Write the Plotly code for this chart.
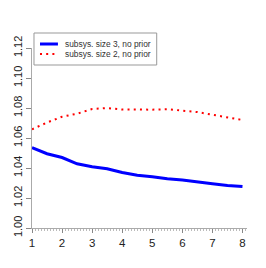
import plotly.graph_objects as go

x_vals = [1, 1.5, 2, 2.5, 3, 3.5, 4, 4.5, 5, 5.5, 6, 6.5, 7, 7.5, 8]
size3_no_prior = [1.0535, 1.0495, 1.0470, 1.0428, 1.0408, 1.0395, 1.0370, 1.0352,
                  1.0342, 1.0328, 1.0320, 1.0305, 1.0295, 1.0284, 1.0276]
size2_no_prior = [1.0658, 1.0703, 1.0742, 1.0762, 1.0793, 1.0800, 1.0790, 1.0789,
                  1.0789, 1.0792, 1.0785, 1.0773, 1.0755, 1.0737, 1.0720]
names = ["subsys. size 3, no prior", "subsys. size 2, no prior"]
x_ticks = [1, 2, 3, 4, 5, 6, 7, 8]
y_ticks = [1.00, 1.02, 1.04, 1.06, 1.08, 1.10, 1.12]

colors = ["#0000ff", "#ff0000"]
widths = [3, 2]
dashes = ["solid", "2px,4.2px"]

fig = go.Figure()
fig.add_trace(go.Scatter(x=x_vals, y=size3_no_prior, mode="lines", name=names[0],
                         line=dict(color=colors[0], width=widths[0], dash=dashes[0])))
fig.add_trace(go.Scatter(x=x_vals, y=size2_no_prior, mode="lines", name=names[1],
                         line=dict(color=colors[1], width=widths[1], dash=dashes[1])))

# page body has an 8px margin; figure drawn offset by it
OFF = 8
W, H = 266 - OFF, 268 - OFF
# plot area in window pixels: x 32..247.5, y 48..228
L, R, T, B = 32, 247.5, 48, 228
def px(p):
    return (p - L) / (R - L)
def py(p):
    return (B - p) / (B - T)

# manual legend (R style)
fig.add_shape(type="rect", xref="paper", yref="paper",
              x0=px(34), x1=px(157), y0=py(65), y1=py(33),
              line=dict(color="#999999", width=1), fillcolor="white", layer="above")
for i, (nm, rowy) in enumerate(zip(names, [44, 54])):
    fig.add_shape(type="line", xref="paper", yref="paper",
                  x0=px(40), x1=px(58), y0=py(rowy), y1=py(rowy),
                  line=dict(color=colors[i], width=widths[i], dash=dashes[i]), layer="above")
    fig.add_annotation(xref="paper", yref="paper", x=px(64), y=py(rowy),
                       xanchor="left", yanchor="middle", text=nm, showarrow=False,
                       borderpad=0, font=dict(size=8.4, color="#333333"))

font = "Liberation Sans, Arial, Helvetica, sans-serif"
fig.update_layout(
    width=W, height=H,
    margin=dict(l=L - OFF, r=266 - R, t=T - OFF, b=268 - B, autoexpand=False),
    paper_bgcolor="white", plot_bgcolor="white",
    font=dict(family=font, size=11, color="#222222"),
    showlegend=False,
    xaxis=dict(range=[1, 8.15], tickvals=x_ticks, ticktext=[str(t) for t in x_ticks],
               showgrid=False, zeroline=False, showline=True, linecolor="#aaaaaa",
               linewidth=1, ticks="outside", ticklen=4, tickcolor="#888888",
               tickfont=dict(size=11.5, color="#222222"),
               minor=dict(dtick=0.1, ticks="outside", ticklen=1.5, tickcolor="#bbbbbb")),
    yaxis=dict(range=[1.0, 1.12], tickvals=y_ticks, ticktext=["%.2f" % t for t in y_ticks],
               showgrid=False, zeroline=False, showline=True, linecolor="#aaaaaa",
               linewidth=1, ticks="outside", ticklen=5, tickcolor="#888888",
               tickangle=-90, tickfont=dict(size=11, color="#222222")),
)
fig.write_html("out.html")
